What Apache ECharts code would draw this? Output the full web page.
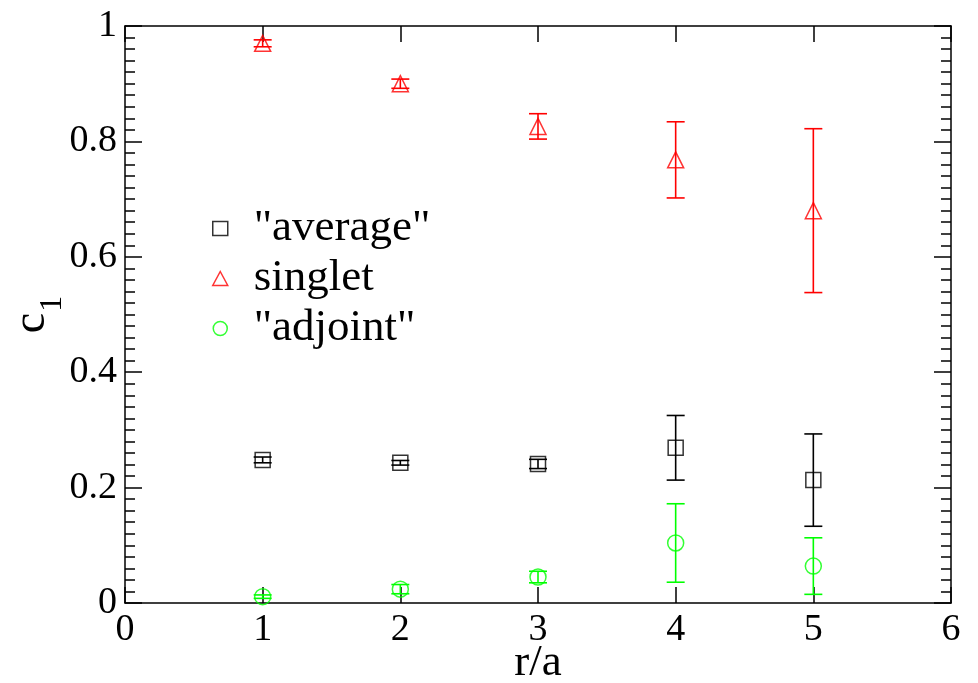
<!DOCTYPE html>
<html>
<head>
<meta charset="utf-8">
<script src="https://cdn.jsdelivr.net/npm/echarts@6/dist/echarts.min.js"></script>
<style>html,body{margin:0;padding:0;background:#fff}#c{width:978px;height:683px}</style>
</head>
<body>
<div id="c"></div>
<script>
var rValues = [1, 2, 3, 4, 5];
var averageValues = [0.248, 0.243, 0.241, 0.269, 0.213];
var averageErrors = [0.005, 0.004, 0.008, 0.056, 0.080];
var singletValues = [0.970, 0.900, 0.826, 0.768, 0.680];
var singletErrors = [0.006, 0.008, 0.022, 0.066, 0.142];
var adjointValues = [0.011, 0.024, 0.045, 0.104, 0.064];
var adjointErrors = [0.003, 0.008, 0.010, 0.068, 0.049];
var seriesNames = ['"average"', 'singlet', '"adjoint"'];
var xTicks = [0, 1, 2, 3, 4, 5, 6];
var yTicks = [0, 0.2, 0.4, 0.6, 0.8, 1];

var FONT = 'Liberation Serif';
var BLACK = '#000000', RED = '#ff0000', GREEN = '#00ff00';

function pts(vals) { return rValues.map(function (x, i) { return [x, vals[i]]; }); }
function errPts(vals, errs) { return rValues.map(function (x, i) { return [x, vals[i], errs[i]]; }); }

function errRenderer(color) {
  return function (params, api) {
    var x = api.value(0), y = api.value(1), e = api.value(2);
    var t = api.coord([x, y + e]), b = api.coord([x, y - e]);
    var hw = 9;
    var st = { stroke: color, lineWidth: 1.6 };
    return { type: 'group', children: [
      { type: 'line', shape: { x1: t[0], y1: t[1], x2: b[0], y2: b[1] }, style: st },
      { type: 'line', shape: { x1: t[0] - hw, y1: t[1], x2: t[0] + hw, y2: t[1] }, style: st },
      { type: 'line', shape: { x1: b[0] - hw, y1: b[1], x2: b[0] + hw, y2: b[1] }, style: st }
    ]};
  };
}

function scatter(name, vals, symbol, color, size) {
  return { type: 'scatter', name: name, data: pts(vals), symbol: symbol, symbolSize: size,
    itemStyle: { color: 'rgba(0,0,0,0)', borderColor: color, borderWidth: 1.5 }, z: 3 };
}
function errSeries(name, vals, errs, color) {
  return { type: 'custom', name: name, data: errPts(vals, errs), renderItem: errRenderer(color),
    encode: { x: 0, y: 1 }, z: 2, silent: true };
}

var axisLine = { show: true, onZero: false, lineStyle: { color: BLACK, width: 1.5 } };
var chart = echarts.init(document.getElementById('c'), null, { renderer: 'canvas' });
chart.setOption({
  animation: false,
  backgroundColor: '#ffffff',
  grid: { left: 125, right: 27, top: 26, bottom: 80, containLabel: false, outerBoundsMode: 'none' },
  legend: {
    orient: 'vertical', left: 212, top: 206, padding: 0, itemWidth: 15, itemHeight: 14, itemGap: 5,
    textStyle: { fontFamily: FONT, fontSize: 45, color: BLACK, lineHeight: 45, padding: [0, 0, 0, 21] },
    data: [
      { name: seriesNames[0], icon: 'rect', itemStyle: { color: 'rgba(0,0,0,0)', borderColor: BLACK, borderWidth: 1.5 } },
      { name: seriesNames[1], icon: 'triangle', itemStyle: { color: 'rgba(0,0,0,0)', borderColor: RED, borderWidth: 1.5 } },
      { name: seriesNames[2], icon: 'circle', itemStyle: { color: 'rgba(0,0,0,0)', borderColor: GREEN, borderWidth: 1.5 } }
    ]
  },
  xAxis: [
    { type: 'value', min: xTicks[0], max: xTicks[xTicks.length - 1], interval: 1, position: 'bottom',
      name: 'r/a', nameLocation: 'middle', nameGap: 38, nameMoveOverlap: false,
      nameTextStyle: { fontFamily: FONT, fontSize: 45, color: BLACK },
      axisLine: axisLine, splitLine: { show: false },
      axisTick: { inside: true, length: 16, lineStyle: { color: BLACK, width: 1.5 } },
      axisLabel: { fontFamily: FONT, fontSize: 38, color: BLACK, margin: 8 } },
    { type: 'value', min: xTicks[0], max: xTicks[xTicks.length - 1], interval: 1, position: 'top',
      axisLine: axisLine, splitLine: { show: false },
      axisTick: { inside: true, length: 16, lineStyle: { color: BLACK, width: 1.5 } },
      axisLabel: { show: false } }
  ],
  yAxis: [
    { type: 'value', min: yTicks[0], max: yTicks[yTicks.length - 1], interval: 0.2, position: 'left',
      name: '{c|c}{s|1}', nameLocation: 'middle', nameGap: 46, nameRotate: 90, nameMoveOverlap: false,
      nameTextStyle: { fontFamily: FONT, color: BLACK,
        rich: { c: { fontFamily: FONT, fontSize: 46, lineHeight: 70, verticalAlign: 'top', color: BLACK },
                s: { fontFamily: FONT, fontSize: 32, lineHeight: 70, verticalAlign: 'top', padding: [28, 0, 0, 1], color: BLACK } } },
      axisLine: axisLine, splitLine: { show: false },
      axisTick: { inside: true, length: 17, lineStyle: { color: BLACK, width: 1.5 } },
      minorTick: { show: true, splitNumber: 10, length: 10, lineStyle: { color: BLACK, width: 1.5 } },
      minorSplitLine: { show: false },
      axisLabel: { fontFamily: FONT, fontSize: 38, color: BLACK, margin: 8,
        formatter: function (v) { return String(Math.round(v * 10) / 10); } } },
    { type: 'value', min: yTicks[0], max: yTicks[yTicks.length - 1], interval: 0.2, position: 'right',
      axisLine: axisLine, splitLine: { show: false },
      axisTick: { inside: true, length: 17, lineStyle: { color: BLACK, width: 1.5 } },
      minorTick: { show: true, splitNumber: 10, length: 10, lineStyle: { color: BLACK, width: 1.5 } },
      axisLabel: { show: false } }
  ],
  series: [
    errSeries('average error', averageValues, averageErrors, BLACK),
    errSeries('singlet error', singletValues, singletErrors, RED),
    errSeries('adjoint error', adjointValues, adjointErrors, GREEN),
    scatter(seriesNames[0], averageValues, 'rect', BLACK, 15),
    scatter(seriesNames[1], singletValues, 'triangle', RED, 16),
    scatter(seriesNames[2], adjointValues, 'circle', GREEN, 16)
  ]
});
</script>
</body>
</html>
